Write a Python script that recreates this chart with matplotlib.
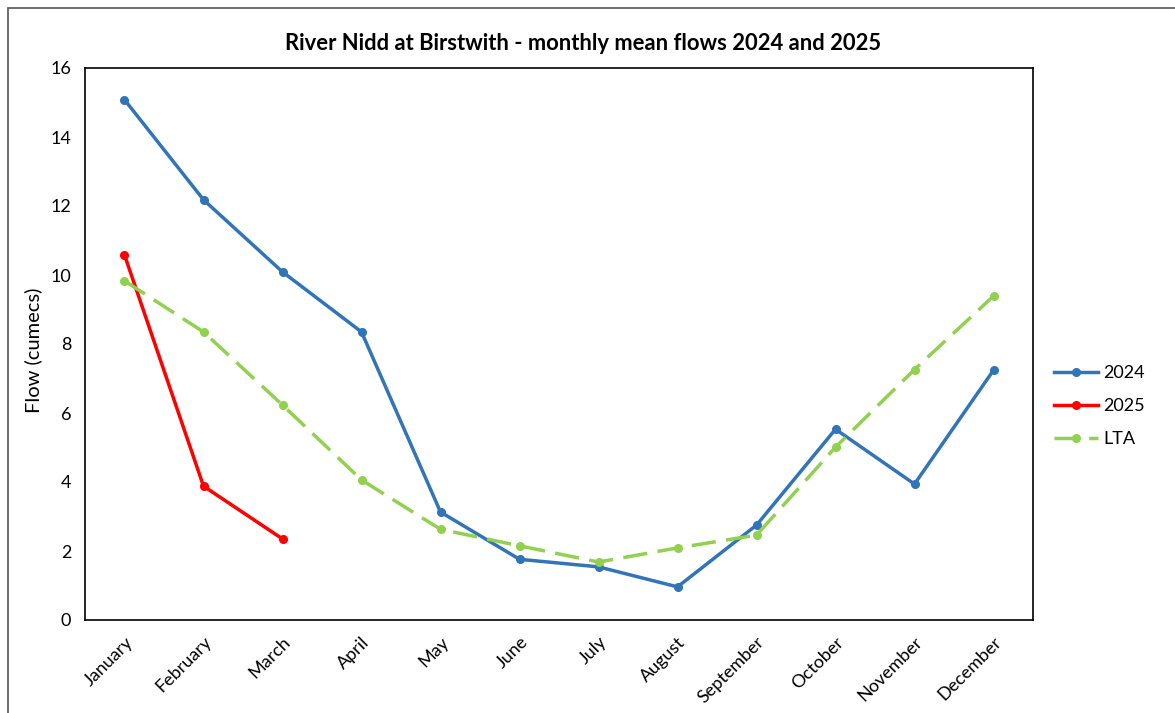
import matplotlib.pyplot as plt
import matplotlib.patches as patches

plt.rcParams['font.family'] = ['Lato', 'DejaVu Sans']

# Monthly mean flows (cumecs)
months = ['January', 'February', 'March', 'April', 'May', 'June', 'July',
          'August', 'September', 'October', 'November', 'December']
flow_2024 = [15.08, 12.18, 10.09, 8.35, 3.13, 1.76, 1.54, 0.96, 2.75, 5.53, 3.94, 7.24]
flow_2025 = [10.58, 3.88, 2.35]
flow_lta = [9.83, 8.35, 6.23, 4.06, 2.63, 2.15, 1.68, 2.09, 2.46, 5.01, 7.26, 9.39]

fig = plt.figure(figsize=(11.75, 7.13), dpi=100)
ax = fig.add_axes([85 / 1175, 1 - 620 / 713, 948 / 1175, 552 / 713])

# Chart area outline (partly cropped in the original)
fig.patches.append(patches.Rectangle((8 / 1175, -0.1), 1.2, 1 - 8 / 713 + 0.1,
                                     transform=fig.transFigure, fill=False,
                                     edgecolor='#555555', linewidth=1.2))

x = list(range(len(months)))
ax.plot(x, flow_2024, color='#3274B8', linewidth=2.5, marker='o', markersize=5.5,
        label='2024')
ax.plot(x[:len(flow_2025)], flow_2025, color='#FF0000', linewidth=2.5, marker='o',
        markersize=5.5, label='2025')
ax.plot(x, flow_lta, color='#92D050', linewidth=2.5, marker='o', markersize=5.5,
        label='LTA', linestyle=(0, (7, 3)))

ax.set_xlim(-0.5, 11.5)
ax.set_ylim(0, 16)
ax.set_yticks(range(0, 17, 2))
ax.set_xticks(x)
ax.set_xticklabels(months, rotation=45, ha='right', rotation_mode='anchor')
ax.tick_params(length=0, labelsize=13, pad=10)
for s in ax.spines.values():
    s.set_linewidth(1.2)

fig.text(33 / 1175, 1 - 350 / 713, 'Flow (cumecs)', rotation=90,
         ha='center', va='center', fontsize=14.5)
fig.text(0.496, 1 - 43 / 713, 'River Nidd at Birstwith - monthly mean flows 2024 and 2025',
         ha='center', va='center', fontsize=15.8, fontweight='bold')

fig.legend(loc='center left', bbox_to_anchor=(1038 / 1175, 1 - 406 / 713),
           frameon=False, fontsize=13, handlelength=2.4, handletextpad=0.3,
           labelspacing=0.95)

fig.savefig('out.png', dpi=100)
